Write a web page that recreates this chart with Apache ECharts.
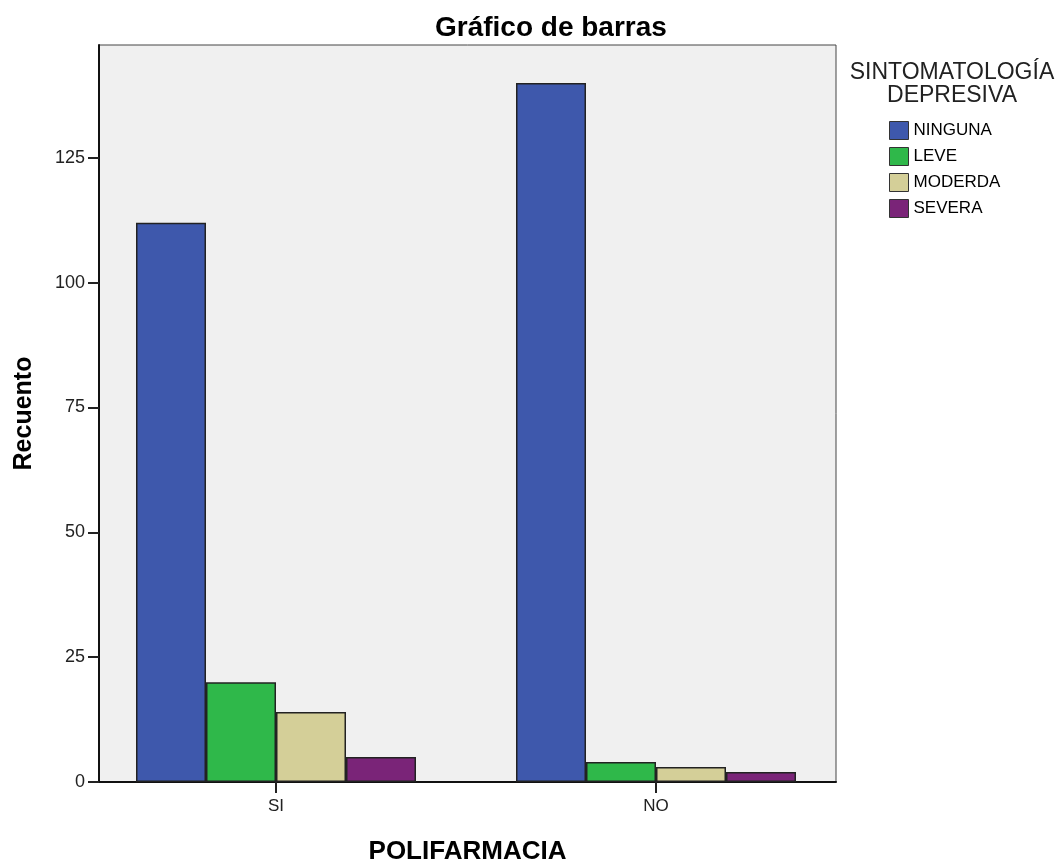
<!DOCTYPE html>
<html>
<head>
<meta charset="utf-8">
<script src="https://cdn.jsdelivr.net/npm/echarts@6/dist/echarts.min.js"></script>
<style>
html,body{margin:0;padding:0;background:#fff;}
#c{width:1055px;height:863px;}
</style>
</head>
<body>
<div id="c"></div>
<script>
const categories = ['SI', 'NO'];
const seriesNames = ['NINGUNA', 'LEVE', 'MODERDA', 'SEVERA'];
const ninguna = [112, 140];
const leve = [20, 4];
const moderda = [14, 3];
const severa = [5, 2];
const yTicks = [0, 25, 50, 75, 100, 125];
const colors = ['#3e58ac', '#2fb84a', '#d4cf98', '#7a2478'];
const values = [ninguna, leve, moderda, severa];

const FONT = '"Liberation Sans", Arial, sans-serif';
const chart = echarts.init(document.getElementById('c'), null, {renderer: 'canvas'});
const yMax = 147.6;

chart.setOption({
  animation: false,
  backgroundColor: '#ffffff',
  color: colors,
  title: [
    {text: 'Gráfico de barras', left: 430, top: 9,
     textStyle: {fontFamily: FONT, fontSize: 28, fontWeight: 'bold', color: '#000'}},
    {text: 'SINTOMATOLOGÍA\nDEPRESIVA', left: 947, top: 56, textAlign: 'center',
     textStyle: {fontFamily: FONT, fontSize: 23, fontWeight: 'normal', color: '#222', lineHeight: 23, align: 'center'}}
  ],
  legend: {
    orient: 'vertical', left: 889, top: 121, icon: 'rect', padding: 0,
    itemWidth: 19, itemHeight: 18, itemGap: 7,
    itemStyle: {borderColor: '#333', borderWidth: 1},
    textStyle: {fontFamily: FONT, fontSize: 17, color: '#000', lineHeight: 18},
    data: seriesNames
  },
  grid: [
    {left: 99, top: 45, width: 737, height: 737, outerBoundsMode: 'none', containLabel: false,
     show: true, backgroundColor: '#f0f0f0', borderColor: '#444', borderWidth: 1},
    {left: 86, top: 45, width: 760, height: 737, outerBoundsMode: 'none', containLabel: false}
  ],
  xAxis: [
    {type: 'category', gridIndex: 1, data: categories,
     axisLine: {show: false},
     axisTick: {show: true, alignWithLabel: true, length: 11, lineStyle: {color: '#222', width: 2}},
     axisLabel: {fontFamily: FONT, fontSize: 17, color: '#222', margin: 16},
     splitLine: {show: false}},
    {type: 'value', gridIndex: 0, min: 0, max: 1,
     axisLine: {show: true, onZero: false, lineStyle: {color: '#111', width: 2}},
     axisTick: {show: false}, axisLabel: {show: false}, splitLine: {show: false},
     name: 'POLIFARMACIA', nameLocation: 'middle', nameGap: 57,
     nameTextStyle: {fontFamily: FONT, fontSize: 26, fontWeight: 'bold', color: '#000'}}
  ],
  yAxis: [
    {type: 'value', gridIndex: 0, min: 0, max: yMax,
     axisLine: {show: true, lineStyle: {color: '#111', width: 2}},
     axisTick: {show: true, length: 11, customValues: yTicks, lineStyle: {color: '#222', width: 2}},
     axisLabel: {customValues: yTicks, fontFamily: FONT, fontSize: 18, color: '#222', margin: 14},
     splitLine: {show: false},
     name: 'Recuento', nameLocation: 'middle', nameGap: 62,
     nameTextStyle: {fontFamily: FONT, fontSize: 25, fontWeight: 'bold', color: '#000'}},
    {type: 'value', gridIndex: 1, min: 0, max: yMax, show: false}
  ],
  series: seriesNames.map((n, i) => ({
    name: n, type: 'bar', xAxisIndex: 0, yAxisIndex: 1,
    data: values[i], barWidth: 70, barGap: '0%',
    itemStyle: {color: colors[i], borderColor: '#222', borderWidth: 1.5}
  }))
});
</script>
</body>
</html>
